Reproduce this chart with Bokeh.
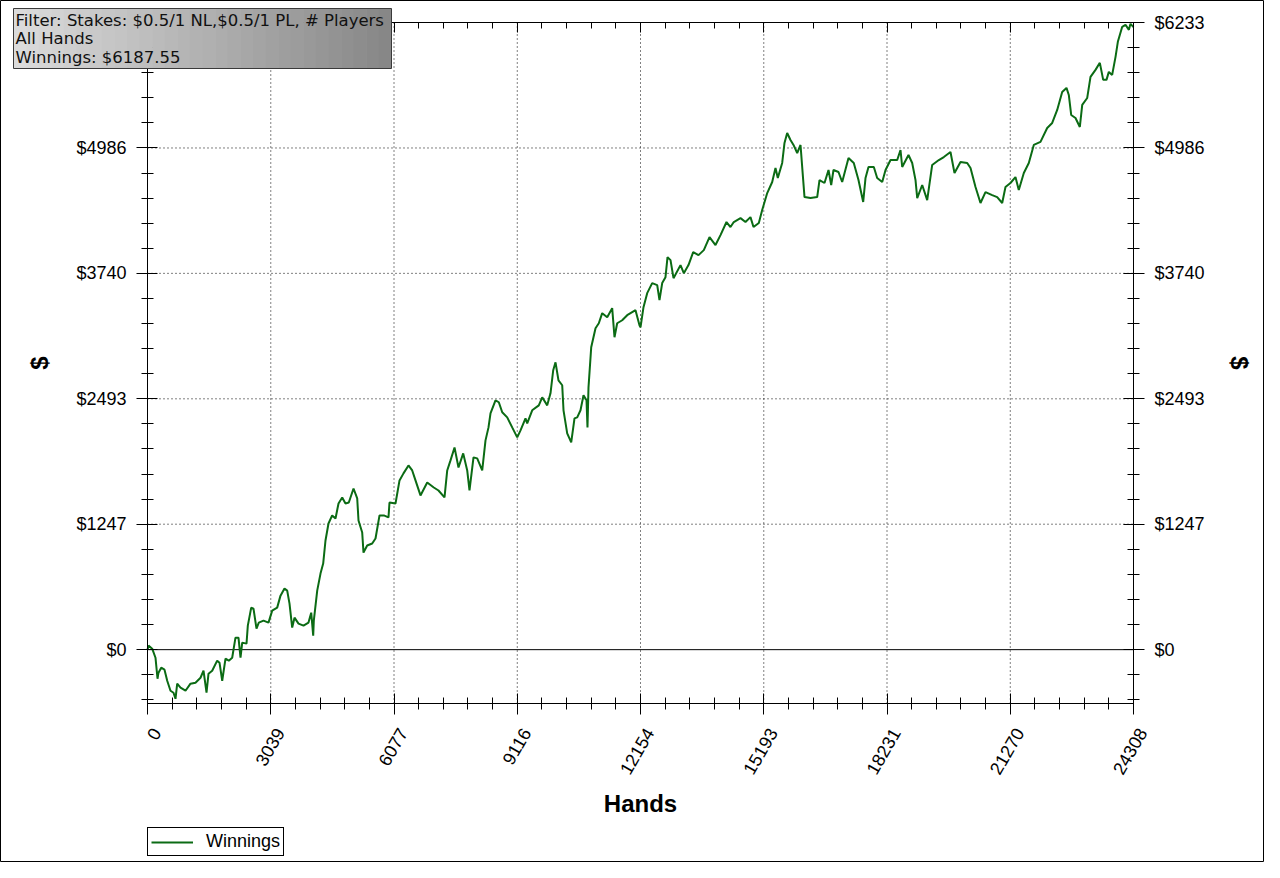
import math
from bokeh.plotting import figure
from bokeh.models import (Range1d, FixedTicker, LinearAxis, PrintfTickFormatter,
                          BoxAnnotation, Label)
from bokeh.core.properties import value
from bokeh.embed import file_html
from bokeh.resources import INLINE

# ---------------- data ----------------
hands = [
    0, 25, 116, 197, 247, 271, 338, 419, 486, 567, 641, 690, 732, 814, 937, 1060, 1183, 1307, 1381, 1455,
    1504, 1595, 1718, 1775, 1842, 1923, 2004, 2088, 2169, 2243, 2293, 2335, 2441, 2473, 2557, 2613, 2687, 2744, 2860, 2983,
    3074, 3197, 3279, 3377, 3444, 3501, 3567, 3624, 3723, 3846, 3969, 4036, 4085, 4100, 4184, 4265, 4331, 4388, 4462, 4553,
    4635, 4709, 4800, 4881, 4963, 5079, 5170, 5202, 5293, 5325, 5416, 5539, 5621, 5720, 5826, 5941, 5966, 6114, 6213,
    6311, 6434, 6526, 6607, 6730, 6896, 7058, 7174, 7322, 7389, 7470, 7569, 7667, 7783, 7882, 7938, 8037, 8128, 8252, 8333,
    8407, 8456, 8579, 8661, 8745, 8868, 8991, 9115, 9196, 9319, 9361, 9484, 9647, 9731, 9854, 9935, 10002, 10059, 10132, 10224,
    10256, 10347, 10446, 10527, 10594, 10675, 10749, 10823, 10847, 10872, 10939, 11045, 11126, 11210, 11333, 11456, 11513, 11579, 11703, 11826,
    12031, 12129,
    12154, 12228, 12319, 12442, 12566, 12622, 12689, 12770, 12820, 12894, 12968, 13140, 13222, 13337, 13453, 13584, 13715, 13855, 14003, 14126,
    14274, 14372, 14454, 14619, 14742, 14865, 14940, 15071, 15154, 15278, 15401, 15482, 15539, 15647, 15704, 15770, 15852, 15926, 16017, 16099,
    16165, 16197, 16345, 16510, 16567, 16690, 16789, 16855, 16912, 17035, 17126, 17282, 17412, 17528, 17644, 17701, 17775, 17906, 17989,
    18113, 18195, 18318, 18483, 18564, 18606, 18761, 18852, 18934, 18976, 19099, 19222, 19345, 19509, 19632, 19796, 19895, 20043, 20208, 20290,
    20413, 20536, 20659, 20824, 20947, 21071, 21152, 21275, 21398, 21480, 21604, 21727, 21850, 22015, 22180, 22304, 22427, 22550, 22656, 22713,
    22772, 22878, 22985, 23044, 23167, 23248, 23371, 23478, 23561, 23642, 23700, 23782, 23865, 23922, 24030, 24111, 24194, 24234, 24308,
]
winnings = [
    0, 40, 10, -80, -289, -229, -179, -199, -309, -408, -428, -488, -338, -378, -408, -338, -328, -279, -209, -428,
    -239, -209, -109, -129, -309, -90, -109, -80, 119, 119, -80, 70, 60, 239, 418, 408, 209, 269, 289, 269,
    388, 418, 537, 607, 587, 458, 219, 318, 259, 239, 269, 368, 139, 289, 587, 756, 856, 1085, 1254, 1334,
    1304, 1453, 1513, 1453, 1463, 1602, 1503, 1284, 1164, 965, 1035, 1055, 1105, 1334, 1334, 1314, 1463, 1453, 1682,
    1752, 1831, 1781, 1682, 1533, 1662, 1612, 1582, 1513, 1781, 1881, 2010, 1811, 1951, 1781, 1582, 1911, 1901, 1781, 2080,
    2209, 2349, 2478, 2459, 2359, 2309, 2209, 2110, 2180, 2299, 2249, 2379, 2428, 2508, 2428, 2548, 2777, 2856, 2677, 2628,
    2379, 2150, 2060, 2299, 2309, 2379, 2528, 2478, 2209, 2607, 3006, 3195, 3244, 3344, 3304, 3394, 3105, 3244, 3274, 3324,
    3374, 3224,
    3204, 3404, 3543, 3643, 3623, 3473, 3643, 3702, 3901, 3871, 3692, 3822, 3742, 3822, 3951, 3921, 3971, 4100, 4021, 4120,
    4250, 4200, 4250, 4289, 4250, 4299, 4200, 4240, 4369, 4538, 4648, 4787, 4687, 4837, 5036, 5135, 5065, 5016, 4936, 5016,
    4667, 4498, 4488, 4498, 4667, 4638, 4767, 4618, 4767, 4747, 4648, 4886, 4837, 4667, 4449, 4687, 4797, 4797, 4687,
    4648, 4767, 4866, 4866, 4966, 4797, 4916, 4837, 4667, 4488, 4618, 4468, 4817, 4866, 4896, 4946, 4737, 4847, 4837, 4787,
    4598, 4439, 4548, 4518, 4498, 4439, 4598, 4638, 4697, 4568, 4737, 4837, 5016, 5046, 5185, 5235, 5364, 5543, 5583, 5513,
    5314, 5284, 5195, 5414, 5483, 5692, 5762, 5832, 5663, 5663, 5742, 5712, 5892, 6041, 6190, 6210, 6160, 6220, 6187.55,
]

x_ticks = [0, 3039, 6077, 9116, 12154, 15193, 18231, 21270, 24308]
y_ticks = [0, 1247, 2493, 3740, 4986, 6233]
y_min = -535
series_name = "Winnings"
x_title = "Hands"
y_title = "$"
info_lines = ["Filter: Stakes: $0.5/1 NL,$0.5/1 PL, # Players", "All Hands", "Winnings: $6187.55"]

# ---------------- layout (pixels in the picture) ----------------
W, H = 1264, 862
PX0, PX1 = 147, 1133      # pixel columns of first / last x tick
PY_TOP, PY_BOT = 22, 703  # pixel rows of top / bottom of the plotting box

x_lo, x_hi = x_ticks[0], x_ticks[-1]
y_lo, y_hi = y_min, y_ticks[-1]
xpp = (x_hi - x_lo) / (PX1 - PX0)
ypp = (y_hi - y_lo) / (PY_BOT - PY_TOP)
xr = Range1d(x_lo - PX0 * xpp, x_lo + (W - PX0) * xpp)
yr = Range1d(y_hi - (H - PY_TOP) * ypp, y_hi + PY_TOP * ypp)

def sy(py):  # picture row -> screen y measured up from canvas bottom
    return H - py

LINE_COLOR = "#0b6b14"
FONT = "Liberation Sans"

p = figure(width=W, height=H, output_backend="svg", toolbar_location=None, title=None,
           x_range=xr, y_range=yr, min_border=0)
p.background_fill_color = "white"
p.border_fill_color = "white"
p.outline_line_color = "black"
p.outline_line_width = 1
p.grid.visible = False

# minor ticks: 5 subdivisions
xstep = (x_hi - x_lo) / (len(x_ticks) - 1) / 5
x_minor = [x_lo + k * xstep for k in range(0, 5 * (len(x_ticks) - 1) + 1) if k % 5]
ystep = (y_ticks[-1] - y_ticks[0]) / (len(y_ticks) - 1) / 5
y_minor = [k * ystep for k in range(-2, 5 * (len(y_ticks) - 1)) if k % 5 and k * ystep >= y_min]

xt = FixedTicker(ticks=x_ticks, minor_ticks=x_minor)
yt = FixedTicker(ticks=y_ticks, minor_ticks=y_minor)

def style_axis(ax, tin=10, tout=11, min_in=6, min_out=6):
    ax.axis_line_color = "black"
    ax.major_tick_line_color = "black"
    ax.minor_tick_line_color = "black"
    ax.major_tick_in = tin
    ax.major_tick_out = tout
    ax.minor_tick_in = min_in
    ax.minor_tick_out = min_out
    ax.major_label_text_font = FONT
    ax.major_label_text_font_size = "18px"
    ax.major_label_text_color = "black"
    ax.axis_label_text_font = FONT
    ax.axis_label_text_font_size = "24px"
    ax.axis_label_text_font_style = "bold"
    ax.axis_label_text_color = "black"

blank_x = {t: "" for t in x_ticks}

xa = p.xaxis[0]
xa.ticker = xt
xa.fixed_location = y_lo
xa.bounds = (x_lo, x_hi)
xa.major_label_overrides = blank_x
style_axis(xa)
xa.major_label_text_font_size = "1px"

ya = p.yaxis[0]
ya.ticker = yt
ya.fixed_location = x_lo
ya.bounds = (y_lo, y_hi)
ya.formatter = PrintfTickFormatter(format="$%d")
ya.axis_label = y_title
ya.major_label_standoff = 10
ya.axis_label_standoff = 20
style_axis(ya)

ra = LinearAxis(ticker=yt, formatter=PrintfTickFormatter(format="$%d"), axis_label=y_title,
                fixed_location=x_hi, bounds=(y_lo, y_hi))
ra.major_label_standoff = 10
ra.axis_label_standoff = 18
style_axis(ra)
p.add_layout(ra, "right")

ta = LinearAxis(ticker=xt, major_label_overrides=blank_x, fixed_location=y_hi, bounds=(x_lo, x_hi))
style_axis(ta, tin=10, tout=0, min_in=6, min_out=0)
ta.major_label_text_font_size = "1px"
ta.major_label_standoff = 0
p.add_layout(ta, "above")

# rotated x tick labels (anchored just below-right of each tick)
p.text(x=[t + 9 * xpp for t in x_ticks], y=[y_lo - 26 * ypp] * len(x_ticks),
       text=[str(t) for t in x_ticks], angle=math.pi / 3,
       text_align="right", text_baseline="middle",
       text_font=value(FONT), text_font_size=value("18px"), text_color="black")

p.add_layout(Label(x=(x_lo + x_hi) / 2, y=sy(803), x_units="data", y_units="screen",
                   text=x_title, text_align="center", text_baseline="middle",
                   text_font=FONT, text_font_size="24px", text_font_style="bold",
                   text_color="black"))

# dotted grid at inner major ticks
gx = x_ticks[1:-1]
gy = [t for t in y_ticks if t not in (0, y_hi)]
p.segment(x0=gx, y0=[y_lo] * len(gx), x1=gx, y1=[y_hi] * len(gx),
          line_color="black", line_width=1, line_dash="1 3")
p.segment(x0=[x_lo] * len(gy), y0=gy, x1=[x_hi] * len(gy), y1=gy,
          line_color="black", line_width=1, line_dash="1 3")

# zero line
p.segment(x0=[x_lo], y0=[0], x1=[x_hi], y1=[0], line_color="black", line_width=1)

# series
r = p.line(hands, winnings, line_color=LINE_COLOR, line_width=2, legend_label=series_name)

# legend below the plot, left aligned with the plotting box
lg = p.legend[0]
lg.location = (PX0, sy(856))
lg.orientation = "vertical"
lg.border_line_color = "black"
lg.border_line_width = 1
lg.border_line_alpha = 1
lg.background_fill_color = "white"
lg.background_fill_alpha = 1
lg.label_text_font = FONT
lg.label_text_font_size = "18px"
lg.label_text_color = "black"
lg.glyph_width = 42
lg.glyph_height = 18
lg.label_standoff = 13
lg.padding = 3
lg.spacing = 0
lg.margin = 0

# info box with grey gradient (top-left)
bx0, bx1, by0, by1 = 13, 391, 8, 68
n = 30
c0, c1 = 220, 134
for i in range(n):
    a = bx0 + (bx1 - bx0) * i / n
    b = min(bx0 + (bx1 - bx0) * (i + 1) / n + 0.6, bx1)
    c = round(c0 + (c1 - c0) * (i + 0.5) / n)
    p.add_layout(BoxAnnotation(left=a, right=b, top=sy(by0), bottom=sy(by1),
                               left_units="screen", right_units="screen",
                               top_units="screen", bottom_units="screen",
                               fill_color=f"#{c:02x}{c:02x}{c:02x}", fill_alpha=1,
                               line_color=None))
p.add_layout(BoxAnnotation(left=bx0, right=bx1, top=sy(by0), bottom=sy(by1),
                           left_units="screen", right_units="screen",
                           top_units="screen", bottom_units="screen",
                           fill_color=None, fill_alpha=0, line_color="#3a3a3a", line_width=1, line_alpha=1))
p.add_layout(Label(x=15, y=sy(10), x_units="screen", y_units="screen",
                   text="\n".join(info_lines), text_font="DejaVu Sans", text_font_size="16.5px",
                   text_color="#111111", text_baseline="top", text_align="left",
                   text_line_height=0.99))

open("out.html", "w").write(file_html(p, INLINE))
